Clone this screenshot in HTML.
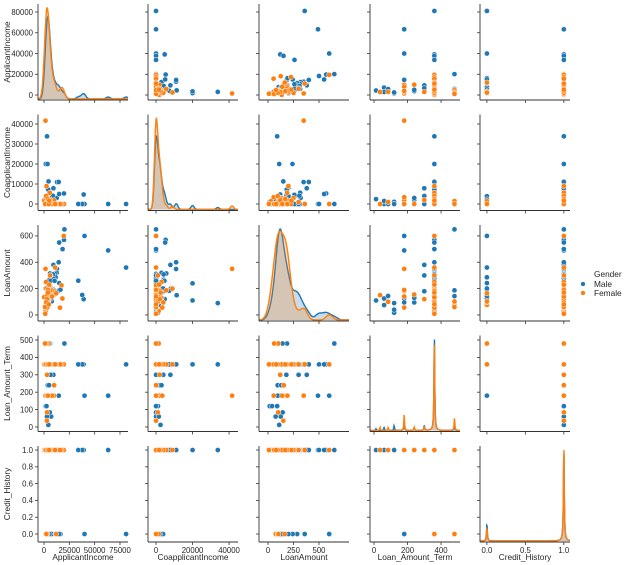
<!DOCTYPE html>
<html><head><meta charset="utf-8"><style>
html,body{margin:0;padding:0;background:#fff;}
svg{display:block;font-family:"Liberation Sans",sans-serif;}
</style></head><body>
<svg id="fig" width="624" height="565" viewBox="0 0 624 565" xmlns="http://www.w3.org/2000/svg"></svg>
<script>
const varNames=['ApplicantIncome','CoapplicantIncome','LoanAmount','Loan_Amount_Term','Credit_History'];
const maleApp=[81000,63337,39999,39147,37719,33846,20166,18333,19730,3000,1800,3500,5849,4583,3000,2583,6000,5417,2333,3036,4006,12841,3200,2500,3073,1853,1299,4950,4887,7660,5955,2600,9560,2799,4226,1442,4166,3167,12500,4166,3748,14583,8080,10750,7100,6250,4300,3167,9323,11500,5746,16250,14999,9504,6125,1668,6333,3200,4230,2875,8750,4000,5417,10408,4547,3867,2895,4333,2000,3750,5000,2900,4500,14500,6500,15000,2500];
const maleCoapp=[0,0,0,4750,0,0,0,0,5266,33837,20000,20000,0,1508,0,2358,0,4196,1516,2504,1526,10968,700,1840,8106,2840,1086,0,0,0,5625,1911,0,2253,1040,0,3369,0,3000,7210,1668,0,2250,0,0,1695,2014,4000,7873,0,0,0,0,0,1625,3890,4583,2254,0,1750,4167,2500,0,0,0,0,0,2451,0,2000,3000,1500,11300,11000,0,5000,0];
const maleLoan=[360,490,600,120,152,260,650,500,570,90,110,240,130,128,66,120,141,267,95,158,168,349,70,109,200,114,17,125,133,104,315,116,191,122,110,35,201,74,320,184,110,185,180,312,125,210,194,180,380,286,144,192,242,275,187,201,259,126,112,105,308,140,143,259,115,62,95,110,40,95,130,75,150,400,300,550,90];
const maleTerm=[360,180,180,360,360,360,480,360,360,360,360,360,360,360,360,360,360,360,360,360,360,360,360,360,360,360,120,360,360,360,360,360,360,360,360,360,360,360,360,360,360,180,360,360,60,360,360,300,300,360,84,360,360,360,480,360,360,180,360,360,360,360,480,360,360,360,180,12,120,240,240,60,360,360,300,360,120];
const maleCredit=[0,1,0,1,1,1,1,1,1,1,1,1,1,1,1,1,1,1,1,0,1,1,1,1,1,1,1,1,1,0,1,0,1,1,1,1,0,1,1,1,1,1,1,1,1,1,1,1,1,0,1,0,0,1,1,0,1,0,1,1,1,1,0,1,1,1,1,1,1,1,1,1,1,1,1,1,1];
const femApp=[1500,3083,1828,3510,4583,2500,3400,5417,1538,10000,2917,2333,4333,3846,9833,6400,1963,2958,18165,19484,17263,15759,12000,5708,2473,150,7583,3000,5818,2900,3000,3000,1000,8000,2000,4000,1200,6000,2200,4700,11000,3800,5200];
const femCoapp=[41667,2168,1330,0,0,0,2500,0,1425,0,0,1451,0,0,1833,0,0,2900,0,0,0,0,0,5625,8980,1800,0,3416,2160,0,1000,2000,0,0,3000,0,0,1000,4000,0,0,2500,1700];
const femLoan=[350,126,100,76,84,96,173,168,30,155,84,102,120,111,182,200,53,131,125,600,225,55,164,187,200,135,187,56,184,150,100,120,60,140,250,190,9,300,95,80,360,170,230];
const femTerm=[180,360,360,360,480,480,360,360,360,240,360,480,360,360,180,360,360,360,360,360,360,360,360,360,360,360,360,180,360,36,84,300,480,180,360,180,360,360,360,360,360,360,360];
const femCredit=[null,1,0,0,1,0,1,1,1,1,1,0,1,1,1,1,1,1,1,1,1,1,0,1,1,1,1,1,1,1,1,1,1,1,1,1,1,1,1,1,1,1,1];
const tickApp=[0,20000,40000,60000,80000];
const tickAppX=[0,25000,50000,75000];
const tickCoapp=[0,10000,20000,30000,40000];
const tickCoappX=[0,20000,40000];
const tickLoan=[0,200,400,600];
const tickLoanX=[0,250,500];
const tickTerm=[0,100,200,300,400,500];
const tickTermX=[0,200,400];
const tickCredit=[0,0.2,0.4,0.6,0.8,1.0];
const tickCreditX=[0,0.5,1.0];
const genderLabels=['Male','Female'];

const NS='http://www.w3.org/2000/svg';
const svg=document.getElementById('fig');
const colors=['#1f77b4','#ff7f0e'];
const colX=[38,148,259,370,480], W=90;
const rowY=[4,114.5,225,335.5,446], H=96;
const xDom=[[-5900,82900],[-4400,44900],[-88,794],[-24,513],[-0.09,1.08]];
const yDom=[[-4800,87700],[-3250,44750],[-46,683],[-26,526],[-0.095,1.048]];
const yTicks=[tickApp,tickCoapp,tickLoan,tickTerm,tickCredit];
const xTicks=[tickAppX,tickCoappX,tickLoanX,tickTermX,tickCreditX];
const groups=[[maleApp,maleCoapp,maleLoan,maleTerm,maleCredit],[femApp,femCoapp,femLoan,femTerm,femCredit]];
function xs(c,v){return colX[c]+(v-xDom[c][0])/(xDom[c][1]-xDom[c][0])*W;}
function ys(r,v){return rowY[r]+H-(v-yDom[r][0])/(yDom[r][1]-yDom[r][0])*H;}
function mk(tag,attrs,parent){const e=document.createElementNS(NS,tag);for(const k in attrs)e.setAttribute(k,attrs[k]);(parent||svg).appendChild(e);return e;}
function fmtY(r,v){return r===4?v.toFixed(1):String(v);}
function fmtX(c,v){return c===4?v.toFixed(1):String(v);}
const bws=[2000,900,32,2.5,0.006];
function dens(c,arr,x){let s=0,n=0;for(const v of arr){if(v===null)continue;n++;const u=(x-v)/bws[c];
 if(c<3)s+=Math.exp(-0.5*u*u)/(bws[c]*2.5066);else s+=1/(Math.PI*bws[c]*(1+u*u));}return n?s/n:0;}
const TF=7.8, LF=8.3;

for(let r=0;r<5;r++){for(let c=0;c<5;c++){
 const g=mk('g',{});
 
 
 const x0=colX[c],y0=rowY[r];
 if(r===c){
  const N=240,curves=[];
  let mx=0;
  for(let k=0;k<2;k++){const pts=[];for(let i=0;i<=N;i++){const xv=xDom[c][0]+(xDom[c][1]-xDom[c][0])*i/N;const d=dens(c,groups[k][c],xv);mx=Math.max(mx,d);pts.push([xv,d]);}curves.push(pts);}
  const base=y0+H-1, top=y0+4;
  for(let k=0;k<2;k++){
   let d='M'+xs(c,curves[k][0][0]).toFixed(2)+','+base;
   let ld='';
   curves[k].forEach((p,i)=>{const px=xs(c,p[0]).toFixed(2),py=(base-(p[1]/mx)*(base-top)).toFixed(2);d+='L'+px+','+py;ld+=(i?'L':'M')+px+','+py;});
   d+='L'+xs(c,curves[k][N][0]).toFixed(2)+','+base+'Z';
   const f=mk('path',{d:d,fill:colors[k],'fill-opacity':0.25,stroke:'none'},g);
   
   
   const l=mk('path',{d:ld,fill:'none',stroke:colors[k],'stroke-width':1.4},g);
   
   
  }
 } else {
  for(let k=0;k<2;k++){const gx=groups[k][c],gy=groups[k][r];
   for(let i=0;i<gx.length;i++){if(gx[i]===null||gy[i]===null)continue;
    const p=mk('circle',{cx:xs(c,gx[i]).toFixed(2),cy:ys(r,gy[i]).toFixed(2),r:2.6,fill:colors[k],stroke:'#fff','stroke-width':0.5},g);
    
    
   }}
 }
 const ls=mk('line',{x1:x0,y1:y0,x2:x0,y2:y0+H,stroke:'#333','stroke-width':0.9},g);
 
 
 const bs=mk('line',{x1:x0,y1:y0+H,x2:x0+W,y2:y0+H,stroke:'#333','stroke-width':0.9},g);
 
 
 yTicks[r].forEach(v=>{const yy=ys(r,v);
  const t=mk('line',{x1:x0-3,y1:yy,x2:x0,y2:yy,stroke:'#333','stroke-width':0.8},g);
  
  
  if(c===0){const tx=mk('text',{x:x0-5,y:yy+2.8,'font-size':TF,'text-anchor':'end',fill:'#262626'},g);tx.textContent=fmtY(r,v);
   
   }
 });
 xTicks[c].forEach(v=>{const xx=xs(c,v);
  const t=mk('line',{x1:xx,y1:y0+H,x2:xx,y2:y0+H+3,stroke:'#333','stroke-width':0.8},g);
  
  
  if(r===4){const tx=mk('text',{x:xx,y:y0+H+11,'font-size':TF,'text-anchor':'middle',fill:'#262626'},g);tx.textContent=fmtX(c,v);
   
   }
 });
}}
for(let i=0;i<5;i++){
 const t=mk('text',{x:colX[i]+W/2,y:560,'font-size':LF,'text-anchor':'middle',fill:'#262626'});t.textContent=varNames[i];
 
 
 const yy=rowY[i]+H/2;
 const u=mk('text',{x:0,y:0,'font-size':LF,'text-anchor':'middle',fill:'#262626',transform:'translate(10,'+yy+') rotate(-90)'});u.textContent=varNames[i];
 
 
}
const lg=mk('g',{});


const lt=mk('text',{x:594,y:277,'font-size':LF,fill:'#262626'},lg);lt.textContent='Gender';


genderLabels.forEach((name,k)=>{const yy=284+k*9;
 const e=mk('g',{},lg);
 
 
 mk('circle',{cx:583,cy:yy,r:2.4,fill:colors[k],stroke:'#fff','stroke-width':0.5},e);
 const t=mk('text',{x:594,y:yy+3,'font-size':LF,fill:'#262626'},e);t.textContent=name;
});
</script>
</body></html>
